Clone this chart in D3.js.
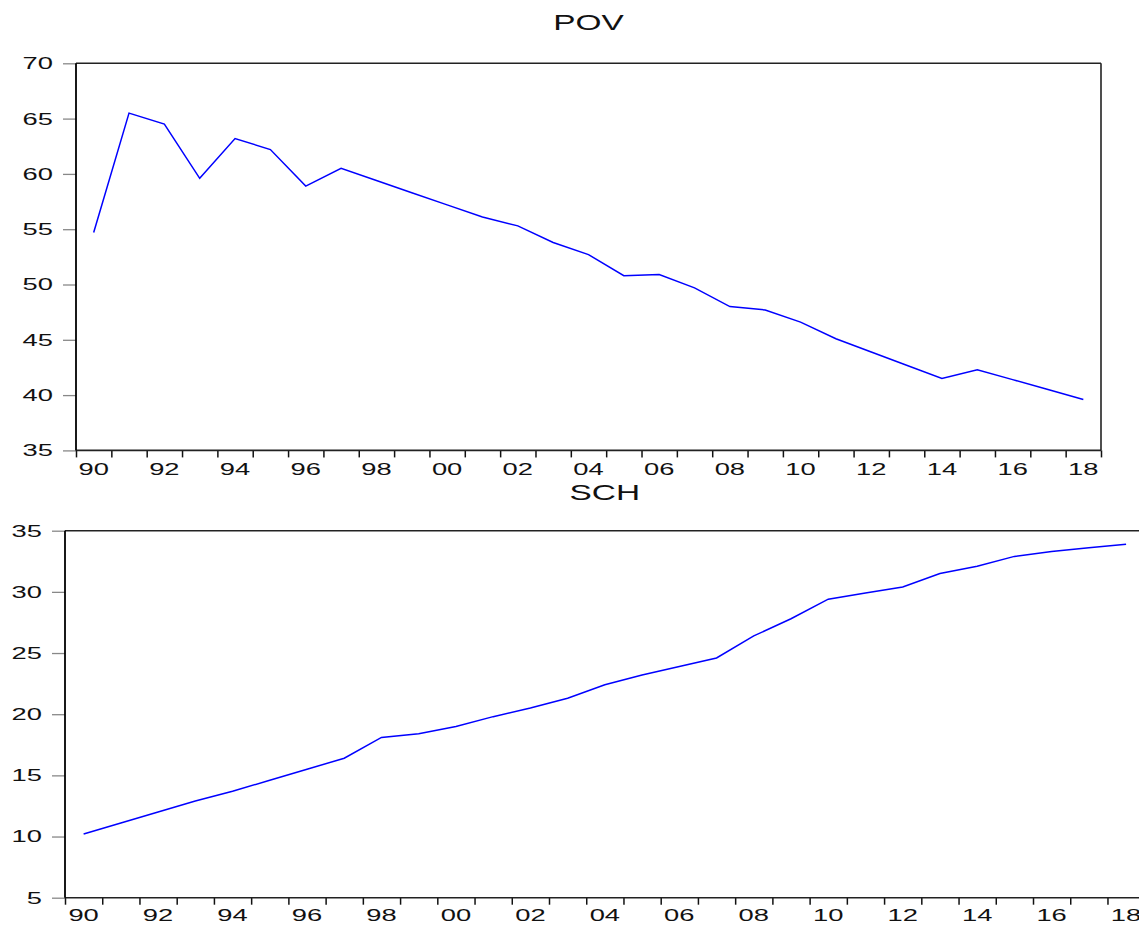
<!DOCTYPE html>
<html>
<head>
<meta charset="utf-8">
<script src="https://cdn.jsdelivr.net/npm/d3@7"></script>
<style>
  body { margin: 0; background: #fff; }
  svg { display: block; font-family: 'Liberation Sans', Arial, sans-serif; }
</style>
</head>
<body>
<script>
const years = d3.range(1990, 2019)
const pov = [54.7, 65.5, 64.5, 59.6, 63.2, 62.2, 58.9, 60.5, 59.4, 58.3,
  57.2, 56.1, 55.3, 53.8, 52.7, 50.8, 50.9, 49.7, 48.0, 47.7,
  46.6, 45.1, 43.9, 42.7, 41.5, 42.3, 41.4, 40.5, 39.6]
const sch = [10.2, 11.1, 12.0, 12.9, 13.7, 14.6, 15.5, 16.4, 18.1, 18.4,
  19.0, 19.8, 20.5, 21.3, 22.4, 23.2, 23.9, 24.6, 26.4, 27.8,
  29.4, 29.9, 30.4, 31.5, 32.1, 32.9, 33.3, 33.6, 33.9]
const labelYears = d3.range(1990, 2019, 2)
const povTicks = [35, 40, 45, 50, 55, 60, 65, 70]
const schTicks = [5, 10, 15, 20, 25, 30, 35]

const width = 1139
const height = 925
const charW = 15.2

const svg = d3.select('body').append('svg')
  .attr('width', width)
  .attr('height', height)

function stretch(sel) {
  sel.attr('textLength', function () { return this.textContent.length * charW })
    .attr('lengthAdjust', 'spacingAndGlyphs')
}

function panel(opts) {
  const { title, values, yDomain, yTicks, left, right, top, bottom, titleY, labelY } = opts
  const g = svg.append('g')
  const x = d3.scaleLinear().domain([1990, 2019]).range([left, right])
  const y = d3.scaleLinear().domain(yDomain).range([bottom, top])

  // y ticks (grey)
  const yAxis = g.append('g')
    .attr('transform', `translate(${left},0)`)
    .call(d3.axisLeft(y).tickValues(yTicks).tickSize(13).tickPadding(10).tickFormat(d3.format('d')))
  yAxis.select('.domain').remove()
  yAxis.selectAll('line').attr('stroke', '#888').attr('stroke-width', 1.3)
  yAxis.selectAll('text')
    .attr('font-size', 17)
    .attr('font-family', 'Liberation Sans, Arial, sans-serif')
    .attr('fill', '#111')
    .call(stretch)

  // x ticks at year boundaries
  const xAxis = g.append('g')
    .attr('transform', `translate(0,${bottom})`)
    .call(d3.axisBottom(x).tickValues(d3.range(1990, 2020)).tickSize(7).tickFormat(''))
  xAxis.select('.domain').remove()
  xAxis.selectAll('line').attr('stroke', '#111').attr('stroke-width', 1.5)

  g.selectAll('text.xlab')
    .data(labelYears)
    .join('text')
    .attr('class', 'xlab')
    .attr('x', d => x(d + 0.5))
    .attr('y', labelY)
    .attr('text-anchor', 'middle')
    .attr('dominant-baseline', 'central')
    .attr('font-size', 17)
    .attr('fill', '#111')
    .text(d => String(d % 100).padStart(2, '0'))
    .call(stretch)

  // frame
  g.append('line').attr('x1', left).attr('x2', right).attr('y1', top).attr('y2', top)
    .attr('stroke', '#222').attr('stroke-width', 1.6)
  g.append('line').attr('x1', left).attr('x2', right).attr('y1', bottom).attr('y2', bottom)
    .attr('stroke', '#222').attr('stroke-width', 1.6)
  g.append('line').attr('x1', left).attr('x2', left).attr('y1', top).attr('y2', bottom)
    .attr('stroke', '#000').attr('stroke-width', 1.8)
  g.append('line').attr('x1', right).attr('x2', right).attr('y1', top).attr('y2', bottom)
    .attr('stroke', '#222').attr('stroke-width', 1.6)

  const line = d3.line()
    .x((d, i) => x(years[i] + 0.5))
    .y(d => y(d))
  g.append('path')
    .datum(values)
    .attr('d', line)
    .attr('fill', 'none')
    .attr('stroke', '#0000ff')
    .attr('stroke-width', 1.5)

  g.append('text')
    .attr('x', (left + right) / 2)
    .attr('y', titleY)
    .attr('text-anchor', 'middle')
    .attr('dominant-baseline', 'central')
    .attr('font-size', 22)
    .attr('fill', '#111')
    .attr('textLength', title.length * 23.5)
    .attr('lengthAdjust', 'spacingAndGlyphs')
    .text(title)
}

panel({
  title: 'POV', values: pov, yDomain: [35, 70], yTicks: povTicks,
  left: 76, right: 1101, top: 63.3, bottom: 450.4,
  titleY: 22, labelY: 469.5
})

panel({
  title: 'SCH', values: sch, yDomain: [5, 35], yTicks: schTicks,
  left: 65, right: 1144.7, top: 530.7, bottom: 897.7,
  titleY: 492, labelY: 915.5
})
</script>
</body>
</html>
